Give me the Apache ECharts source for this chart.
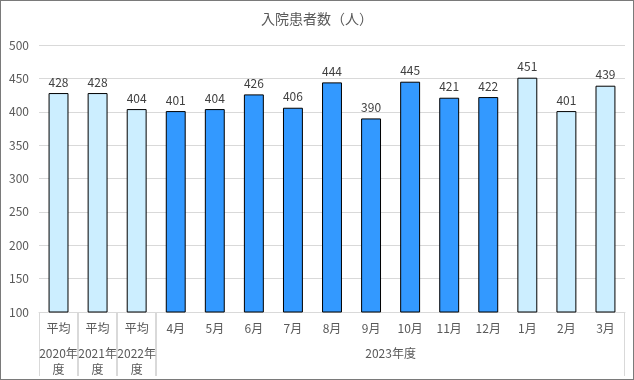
<!DOCTYPE html>
<html><head><meta charset="utf-8">
<script src="https://cdn.jsdelivr.net/npm/echarts@6/dist/echarts.min.js"></script>
<style>html,body{margin:0;padding:0;background:#fff}#c{width:634px;height:380px;box-sizing:border-box;border:1px solid #7a7a7a}</style>
</head><body><div id="c"></div>
<script>
const title = '入院患者数（人）';
const categories = ['平均','平均','平均','4月','5月','6月','7月','8月','9月','10月','11月','12月','1月','2月','3月'];
const values = [428,428,404,401,404,426,406,444,390,445,421,422,451,401,439];
const isAverageOrQ4 = [1,1,1,0,0,0,0,0,0,0,0,0,1,1,1];
const groupLabels = ['2020年\n度','2021年\n度','2022年\n度','2023年度'];
const groupStart = [0,1,2,3];
const groupEnd = [1,2,3,15];
const yTicks = {min:100, max:500, interval:50};

const FONT = '"Noto Sans CJK JP", "Noto Sans", sans-serif';
const LIGHT = '#cceeff', DARK = '#3399ff', GRAY = '#d9d9d9';

const chart = echarts.init(document.getElementById('c'));
chart.setOption({
  animation:false,
  title:{text:title,left:'center',top:6,textStyle:{fontFamily:FONT,fontSize:14,fontWeight:'normal',color:'#595959'}},
  grid:{left:38,right:8,top:44,bottom:67},
  xAxis:{type:'category',data:categories,
    axisLine:{lineStyle:{color:GRAY}},axisTick:{show:false},
    axisLabel:{interval:0,margin:10,fontFamily:FONT,fontSize:12,color:'#595959'}},
  yAxis:{type:'value',min:yTicks.min,max:yTicks.max,interval:yTicks.interval,
    axisLine:{show:false},axisTick:{show:false},
    splitLine:{lineStyle:{color:GRAY}},
    axisLabel:{margin:10,fontFamily:FONT,fontSize:12,color:'#595959'}},
  series:[{
    type:'bar',barWidth:'51%',
    data:values.map((v,i)=>({value:v,itemStyle:{color:isAverageOrQ4[i]?LIGHT:DARK}})),
    itemStyle:{borderColor:'#000',borderWidth:1},
    label:{show:true,position:'top',distance:5,fontFamily:FONT,fontSize:12,color:'#404040'}
  },{
    type:'custom',clip:false,silent:true,
    encode:{x:0,y:2},
    data:groupLabels.map((t,i)=>[groupStart[i],groupEnd[i],100]),
    renderItem:function(params,api){
      const s=api.value(0), e=api.value(1);
      const bw=api.size([1,0])[0];
      const p0=api.coord([s,100]);
      const p1=api.coord([e-1,100]);
      const x0=p0[0]-bw/2, x1=p1[0]+bw/2, y0=p0[1];
      const lbl=groupLabels[params.dataIndex];
      return {type:'group',children:[
        {type:'line',shape:{x1:Math.round(x0)+0.5,y1:y0,x2:Math.round(x0)+0.5,y2:y0+64},style:{stroke:GRAY,lineWidth:1}},
        {type:'line',shape:{x1:Math.round(x1)-0.5,y1:y0,x2:Math.round(x1)-0.5,y2:y0+64},style:{stroke:GRAY,lineWidth:1}},
        {type:'text',style:{text:lbl,x:(x0+x1)/2,y:y0+33,align:'center',verticalAlign:'top',
          fontFamily:FONT,fontSize:12,lineHeight:16,fill:'#595959'}}
      ]};
    }
  }]
});
</script></body></html>
